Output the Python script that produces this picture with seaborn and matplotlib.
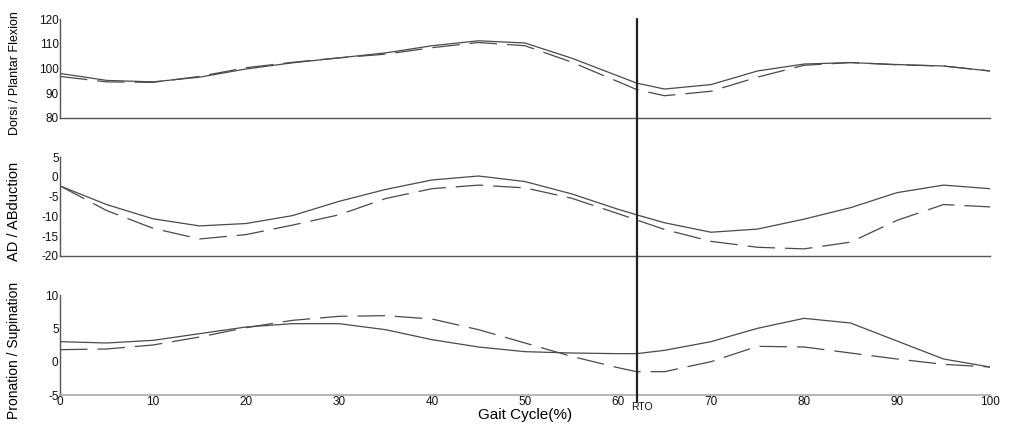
import matplotlib
matplotlib.use("Agg")
import matplotlib.pyplot as plt
import matplotlib.transforms as mtransforms
import seaborn as sns
import pandas as pd

# ---------------- data ----------------
gait = [0, 5, 10, 15, 20, 25, 30, 35, 40, 45, 50, 55, 60, 62, 65, 70, 75, 80, 85, 90, 95, 100]

dpf_solid = [98.0, 95.2, 94.6, 96.5, 99.8, 102.3, 104.3, 106.3, 109.2, 111.2, 110.3, 104.2,
             97.0, 94.1, 91.7, 93.5, 99.0, 101.8, 102.4, 101.6, 101.0, 99.0]
dpf_dashed = [96.8, 94.6, 94.4, 96.8, 100.3, 102.5, 104.3, 105.8, 108.4, 110.5, 109.2, 102.6,
              94.7, 91.5, 89.0, 90.8, 96.5, 101.3, 102.4, 101.5, 101.0, 99.0]

abd_solid = [-2.3, -7.0, -10.6, -12.4, -11.8, -9.8, -6.2, -3.2, -0.8, 0.2, -1.2, -4.3,
             -8.2, -9.6, -11.6, -14.0, -13.2, -10.7, -7.8, -4.0, -2.1, -3.0]
abd_dashed = [-2.3, -8.5, -13.0, -15.7, -14.6, -12.2, -9.6, -5.5, -3.0, -2.1, -2.8, -5.4,
              -9.3, -10.9, -13.3, -16.3, -17.8, -18.2, -16.5, -11.0, -7.0, -7.6]

pro_solid = [3.0, 2.8, 3.2, 4.2, 5.2, 5.7, 5.7, 4.8, 3.3, 2.2, 1.5, 1.3,
             1.2, 1.2, 1.7, 3.0, 5.0, 6.5, 5.8, 3.1, 0.4, -0.8]
pro_dashed = [1.8, 1.9, 2.5, 3.7, 5.1, 6.2, 6.8, 6.9, 6.4, 4.8, 2.8, 0.8,
              -0.9, -1.5, -1.5, 0.0, 2.3, 2.2, 1.3, 0.4, -0.4, -0.8]

panel_labels = ["Dorsi / Plantar Flexion", "AD / ABduction", "Pronation / Supination"]
panel_ylims = [(80, 120), (-20, 5), (-5, 10)]
panel_yticks = [[80, 90, 100, 110, 120], [-20, -15, -10, -5, 0, 5], [-5, 0, 5, 10]]
x_ticks = [0, 10, 20, 30, 40, 50, 60, 70, 80, 90, 100]
rto_x = 62
x_label = "Gait Cycle(%)"
rto_label = "RTO"

# ---------------- style ----------------
sns.set_style("white")
fam = ["Liberation Sans", "DejaVu Sans"]
plt.rcParams["font.family"] = fam

fig = plt.figure(figsize=(10.12, 4.32), dpi=100)
W, H = 1012.0, 432.0
left = 60 / W
width = 930 / W
boxes = [(19, 118), (157, 256), (295, 395)]
axes = []
for (top, bot) in boxes:
    ax = fig.add_axes([left, 1 - bot / H, width, (bot - top) / H])
    axes.append(ax)

series = [(dpf_solid, dpf_dashed), (abd_solid, abd_dashed), (pro_solid, pro_dashed)]
line_col = "#4a4a4a"
label_centers = [0.45, 0.45, 0.45]
label_sizes = [9.0, 10.5, 10.0]

for i, ax in enumerate(axes):
    s, d = series[i]
    df = pd.DataFrame({"x": gait, "solid": s, "dashed": d})
    sns.lineplot(data=df, x="x", y="solid", ax=ax, color=line_col, lw=0.9)
    sns.lineplot(data=df, x="x", y="dashed", ax=ax, color=line_col, lw=0.9,
                 dashes=False, linestyle=(0, (22, 8)))
    ax.set_xlim(0, 100)
    ax.set_ylim(*panel_ylims[i])
    ax.set_yticks(panel_yticks[i])
    ax.set_yticklabels([str(t) for t in panel_yticks[i]], fontsize=8.5, color="#111111")
    ax.tick_params(axis="y", direction="in", length=6, width=0.8, color="#555555", pad=1)
    for sp in ["top", "right"]:
        ax.spines[sp].set_visible(False)
    ax.spines["left"].set_color("#555555")
    ax.spines["left"].set_linewidth(1.0)
    ax.set_ylabel(panel_labels[i], fontsize=label_sizes[i], color="#000000")
    ax.yaxis.set_label_coords(-0.042, label_centers[i])
    ax.set_xlabel("")
    if i < 2:
        ax.set_xticks([])
        ax.spines["bottom"].set_color("#555555")
        ax.spines["bottom"].set_linewidth(1.0)
    else:
        ax.set_xticks(x_ticks)
        ax.set_xticklabels([str(t) for t in x_ticks], fontsize=8.5, color="#111111")
        ax.tick_params(axis="x", direction="in", length=6, width=0.8, color="#555555", pad=1)
        ax.spines["bottom"].set_color("#aaaaaa")
        ax.spines["bottom"].set_linewidth(1.2)
        ax.set_xlabel(x_label, fontsize=11, color="#000000", labelpad=0)

# vertical RTO line spanning all panels
ax3 = axes[2]
trans = mtransforms.blended_transform_factory(ax3.transData, fig.transFigure)
ax3.plot([rto_x, rto_x], [1 - 402 / H, 1 - 19 / H], transform=trans, color="#222222",
         lw=1.6, clip_on=False, zorder=5)
ax3.text(rto_x + 0.6, 1 - 407 / H, rto_label, transform=trans, ha="center", va="center",
         fontsize=7.5, color="#111111")

fig.savefig("out.png", dpi=100)
